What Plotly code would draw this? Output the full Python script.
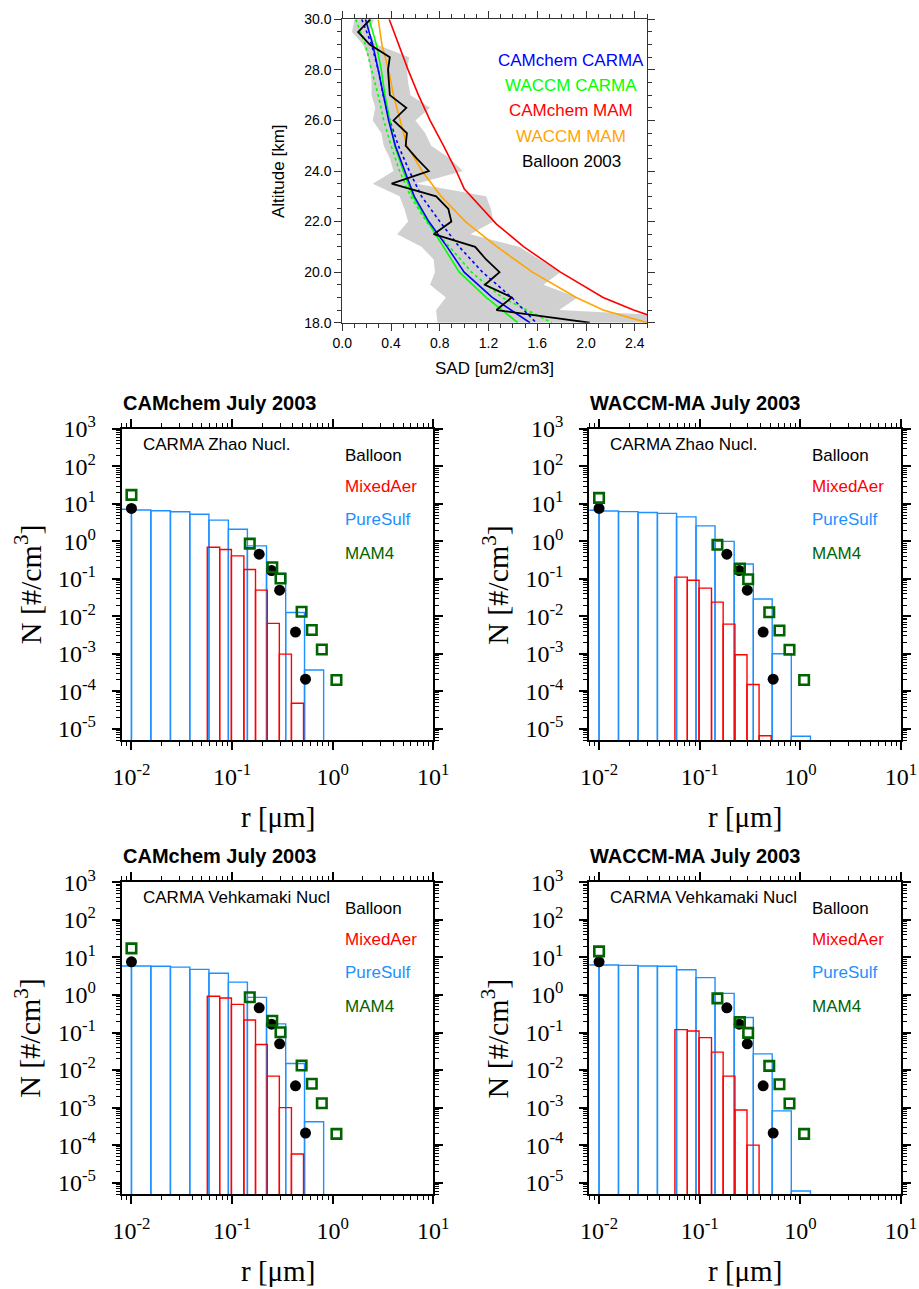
import plotly.graph_objects as go

W, H = 919, 1289

# ---------------- Top panel data (SAD profiles) ----------------
alt_balloon = [30.0, 29.5, 29.0, 28.5, 28.0, 27.5, 27.0, 26.5, 26.0, 25.5, 25.0, 24.5, 24.0,
               23.5, 23.0, 22.5, 22.0, 21.5, 21.0, 20.5, 20.0, 19.5, 19.0, 18.5, 18.0]
sad_balloon = [0.23, 0.13, 0.225, 0.39, 0.375, 0.385, 0.39, 0.525, 0.42, 0.53, 0.52, 0.61, 0.71,
               0.405, 0.77, 0.87, 0.895, 0.75, 1.09, 1.18, 1.29, 1.17, 1.39, 1.265, 2.03]
sad_balloon_lo = [0.10, 0.08, 0.17, 0.21, 0.23, 0.24, 0.24, 0.27, 0.25, 0.32, 0.34, 0.39, 0.42,
                  0.25, 0.47, 0.51, 0.54, 0.45, 0.65, 0.75, 0.76, 0.72, 0.85, 0.77, 0.78]
sad_balloon_hi = [0.26, 0.22, 0.28, 0.55, 0.53, 0.54, 0.56, 0.72, 0.60, 0.68, 0.73, 0.88, 0.99,
                  0.61, 1.18, 1.22, 1.24, 1.05, 1.45, 1.62, 1.79, 1.65, 1.93, 1.78, 3.8]

alt_model = [30, 29, 28, 27, 26, 25, 24, 23, 22, 21, 20, 19, 18]
sad_camchem_carma = [0.19, 0.25, 0.295, 0.335, 0.38, 0.435, 0.51, 0.59, 0.71, 0.86, 1.0, 1.23, 1.54]
sad_camchem_carma_v = [0.16, 0.24, 0.295, 0.335, 0.39, 0.46, 0.55, 0.65, 0.80, 0.96, 1.15, 1.39, 1.59]
sad_waccm_carma = [0.22, 0.28, 0.32, 0.35, 0.39, 0.43, 0.50, 0.58, 0.70, 0.83, 0.96, 1.18, 1.44]
sad_waccm_carma_v = [0.11, 0.19, 0.24, 0.295, 0.34, 0.40, 0.47, 0.56, 0.69, 0.88, 1.06, 1.31, 1.72]

alt_waccm_mam = [30, 29, 28, 27, 26, 25, 24, 23, 22, 21, 20, 19, 18.5, 18]
sad_waccm_mam = [0.295, 0.325, 0.38, 0.42, 0.475, 0.53, 0.655, 0.81, 1.01, 1.27, 1.56, 1.92, 2.14, 2.50]
alt_camchem_mam = [30, 29, 28, 27, 26, 25, 24, 23.3, 21.9, 21, 20, 19, 18.5, 18]
sad_camchem_mam = [0.385, 0.46, 0.54, 0.625, 0.72, 0.83, 0.935, 1.0, 1.265, 1.49, 1.79, 2.14, 2.39, 2.7]

top_legend = ["CAMchem CARMA", "WACCM CARMA", "CAMchem MAM", "WACCM MAM", "Balloon 2003"]

# ---------------- Size distribution data ----------------
r_edges_sulf = [0.00645, 0.01, 0.0156, 0.0244, 0.038, 0.0589, 0.0919, 0.142, 0.220, 0.341, 0.525, 0.813, 1.26]
r_edges_mix = [0.0567, 0.0753, 0.0985, 0.131, 0.171, 0.224, 0.295, 0.389, 0.513]

sulf_cam_zhao = [7.2, 6.9, 6.6, 6.2, 5.3, 3.7, 2.1, 0.76, 0.14, 0.0127, 3.7e-4, 1e-6]
sulf_wac_zhao = [6.8, 6.5, 6.25, 5.9, 5.6, 4.5, 2.6, 1.0, 0.25, 0.029, 1.0e-3, 6.3e-6]
sulf_cam_vehk = [5.9, 5.9, 5.8, 5.5, 4.8, 3.8, 2.2, 0.86, 0.17, 0.015, 4.2e-4, 1e-6]
sulf_wac_vehk = [6.3, 6.3, 6.15, 5.9, 5.8, 4.7, 2.9, 1.1, 0.25, 0.027, 8.2e-4, 6e-6]

mix_cam_zhao = [0.70, 0.61, 0.41, 0.177, 0.050, 0.0065, 9.8e-4, 4.8e-5]
mix_wac_zhao = [0.111, 0.092, 0.0565, 0.0239, 0.0062, 9.4e-4, 1.52e-4, 6.5e-6]
mix_cam_vehk = [0.92, 0.83, 0.56, 0.215, 0.048, 0.0069, 1.0e-3, 5.8e-5]
mix_wac_vehk = [0.119, 0.11, 0.073, 0.030, 0.0069, 8.6e-4, 1.0e-4, 1e-6]

r_balloon = [0.01, 0.186, 0.247, 0.297, 0.427, 0.537]
n_balloon = [7.6, 0.455, 0.167, 0.050, 0.0038, 2.1e-4]
r_mam4 = [0.01, 0.150, 0.251, 0.303, 0.491, 0.620, 0.780, 1.09]
n_mam4_cam = [17.4, 0.87, 0.205, 0.102, 0.0132, 0.0043, 0.0013, 2.0e-4]
n_mam4_wac = [14.5, 0.81, 0.189, 0.098, 0.0129, 0.0042, 0.00128, 2.0e-4]

panel_titles = ["CAMchem July 2003", "WACCM-MA July 2003", "CAMchem July 2003", "WACCM-MA July 2003"]
panel_notes = ["CARMA Zhao Nucl.", "CARMA Zhao Nucl.", "CARMA Vehkamaki Nucl", "CARMA Vehkamaki Nucl"]
legend_names = ["Balloon", "MixedAer", "PureSulf", "MAM4"]
x_decades = [0.01, 0.1, 1, 10]
x_decade_text = ["10<sup>-2</sup>", "10<sup>-1</sup>", "10<sup>0</sup>", "10<sup>1</sup>"]
y_decades = [1e-5, 1e-4, 1e-3, 1e-2, 1e-1, 1, 10, 100, 1000]
y_decade_text = ["10<sup>-5</sup>", "10<sup>-4</sup>", "10<sup>-3</sup>", "10<sup>-2</sup>",
                 "10<sup>-1</sup>", "10<sup>0</sup>", "10<sup>1</sup>", "10<sup>2</sup>", "10<sup>3</sup>"]

# ---------------- helpers ----------------
def xdom(a, b):
    return [a / W, b / W]

def ydom(top, bottom):
    return [1 - bottom / H, 1 - top / H]

def px(x):
    return x / W

def py(y):
    return 1 - y / H

def step_outline(edges, vals, base=1e-8):
    xs, ys = [], []
    for i, v in enumerate(vals):
        xs += [edges[i], edges[i], edges[i + 1], edges[i + 1], None]
        ys += [base, v, v, base, None]
    return xs, ys

fig = go.Figure()

BLUE, LIME, RED, ORANGE = "#0000ff", "#00ff00", "#ff0000", "#ffa500"

# ---- Top panel ----
fig.add_trace(go.Scatter(x=sad_balloon_lo + sad_balloon_hi[::-1], y=alt_balloon + alt_balloon[::-1],
                         fill="toself", fillcolor="#d0d0d0", line=dict(width=0), mode="lines",
                         hoverinfo="skip", showlegend=False, xaxis="x", yaxis="y"))
fig.add_trace(go.Scatter(x=sad_waccm_carma_v, y=alt_model, mode="lines",
                         line=dict(color=LIME, width=1.6, dash="3px,3px"), showlegend=False))
fig.add_trace(go.Scatter(x=sad_camchem_carma_v, y=alt_model, mode="lines",
                         line=dict(color=BLUE, width=1.6, dash="3px,3px"), showlegend=False))
fig.add_trace(go.Scatter(x=sad_waccm_carma, y=alt_model, mode="lines",
                         line=dict(color=LIME, width=1.6), showlegend=False))
fig.add_trace(go.Scatter(x=sad_camchem_carma, y=alt_model, mode="lines",
                         line=dict(color=BLUE, width=1.6), showlegend=False))
fig.add_trace(go.Scatter(x=sad_camchem_mam, y=alt_camchem_mam, mode="lines",
                         line=dict(color=RED, width=1.6), showlegend=False))
fig.add_trace(go.Scatter(x=sad_waccm_mam, y=alt_waccm_mam, mode="lines",
                         line=dict(color=ORANGE, width=1.6), showlegend=False))
fig.add_trace(go.Scatter(x=sad_balloon, y=alt_balloon, mode="lines",
                         line=dict(color="black", width=1.8), showlegend=False))

top_font = dict(family="Liberation Sans, Arial", size=14, color="black")
fig.update_layout(
    xaxis=dict(domain=xdom(342.3, 647), range=[0, 2.5], tickvals=[0, 0.4, 0.8, 1.2, 1.6, 2.0, 2.4],
               ticktext=["0.0", "0.4", "0.8", "1.2", "1.6", "2.0", "2.4"],
               ticks="outside", ticklen=7, tickwidth=1, tickcolor="#333",
               minor=dict(dtick=0.1, tick0=0, ticks="outside", ticklen=4, tickcolor="#333"),
               showline=True, linecolor="#333", linewidth=1, mirror="ticks", showgrid=False,
               zeroline=False, tickfont=top_font, anchor="y", automargin=False),
    yaxis=dict(domain=ydom(19.3, 322.7), range=[18, 30], tickvals=[18, 20, 22, 24, 26, 28, 30],
               ticktext=["18.0", "20.0", "22.0", "24.0", "26.0", "28.0", "30.0"],
               ticks="outside", ticklen=7, tickwidth=1, tickcolor="#333",
               minor=dict(dtick=0.5, tick0=18, ticks="outside", ticklen=4, tickcolor="#333"),
               showline=True, linecolor="#333", linewidth=1, mirror="ticks", showgrid=False,
               zeroline=False, tickfont=top_font, anchor="x", automargin=False),
)

annotations = []
top_cols = [BLUE, LIME, RED, ORANGE, "black"]
top_ys = [60, 85.7, 110.5, 136, 161.5]
for txt, c, yy in zip(top_legend, top_cols, top_ys):
    annotations.append(dict(text=txt, x=px(571), y=py(yy), xref="paper", yref="paper",
                            xanchor="center", yanchor="middle", showarrow=False,
                            font=dict(family="Liberation Sans, Arial", size=17, color=c)))
annotations.append(dict(text="SAD [um2/cm3]", x=px(494.5), y=py(369), xref="paper", yref="paper",
                        xanchor="center", yanchor="middle", showarrow=False,
                        font=dict(family="Liberation Sans, Arial", size=17, color="black")))
annotations.append(dict(text="Altitude [km]", x=px(278), y=py(171), xref="paper", yref="paper",
                        xanchor="center", yanchor="middle", showarrow=False, textangle=-90,
                        font=dict(family="Liberation Sans, Arial", size=17, color="black")))

# ---- Bottom panels ----
panels = [
    dict(x0=121.7, x1=433.3, top=429, bottom=740, sulf=sulf_cam_zhao, mix=mix_cam_zhao, mam=n_mam4_cam),
    dict(x0=589.3, x1=901, top=429, bottom=740, sulf=sulf_wac_zhao, mix=mix_wac_zhao, mam=n_mam4_wac),
    dict(x0=121.7, x1=433.3, top=882.3, bottom=1194, sulf=sulf_cam_vehk, mix=mix_cam_vehk, mam=n_mam4_cam),
    dict(x0=589.3, x1=901, top=882.3, bottom=1194, sulf=sulf_wac_vehk, mix=mix_wac_vehk, mam=n_mam4_wac),
]

x_minor = [k * d for d in [0.001, 0.01, 0.1, 1] for k in range(2, 10)]
y_minor = [k * d for d in [1e-6, 1e-5, 1e-4, 1e-3, 1e-2, 1e-1, 1, 10, 100] for k in range(2, 10)]
serif = "Liberation Serif, Times New Roman"
sans = "Liberation Sans, Arial"
DODGER = "#1e90ff"
DKGREEN = "#006400"

for i, p in enumerate(panels):
    n = i + 2
    xa, ya = f"x{n}", f"y{n}"
    sx, sy = step_outline(r_edges_sulf, p["sulf"])
    mx, my = step_outline(r_edges_mix, p["mix"])
    fig.add_trace(go.Scatter(x=sx, y=sy, mode="lines", line=dict(color=DODGER, width=1.4),
                             showlegend=False, xaxis=xa, yaxis=ya))
    fig.add_trace(go.Scatter(x=mx, y=my, mode="lines", line=dict(color=RED, width=1.4),
                             showlegend=False, xaxis=xa, yaxis=ya))
    fig.add_trace(go.Scatter(x=r_balloon, y=n_balloon, mode="markers",
                             marker=dict(symbol="circle", size=11, color="black"),
                             showlegend=False, xaxis=xa, yaxis=ya))
    fig.add_trace(go.Scatter(x=r_mam4, y=p["mam"], mode="markers",
                             marker=dict(symbol="square-open", size=9.5, color=DKGREEN,
                                         line=dict(width=2.6, color=DKGREEN)),
                             showlegend=False, xaxis=xa, yaxis=ya))
    fig.layout[f"xaxis{n}"] = dict(
        domain=xdom(p["x0"], p["x1"]), type="log", range=[-2.0969, 1], anchor=ya,
        tickmode="array", tickvals=x_decades, ticktext=x_decade_text,
        ticks="outside", ticklen=8, tickwidth=1.5, tickcolor="black",
        minor=dict(tickmode="array", tickvals=x_minor, ticks="outside", ticklen=4, tickwidth=1, tickcolor="black"),
        showline=True, linecolor="black", linewidth=2, mirror="ticks", showgrid=False, zeroline=False,
        tickfont=dict(family=serif, size=24, color="black"), ticklabelstandoff=6, automargin=False)
    fig.layout[f"yaxis{n}"] = dict(
        domain=ydom(p["top"], p["bottom"]), type="log", range=[-5.301, 3], anchor=xa,
        tickmode="array", tickvals=y_decades, ticktext=y_decade_text,
        ticks="outside", ticklen=8, tickwidth=1.5, tickcolor="black",
        minor=dict(tickmode="array", tickvals=y_minor, ticks="outside", ticklen=4, tickwidth=1, tickcolor="black"),
        showline=True, linecolor="black", linewidth=2, mirror="ticks", showgrid=False, zeroline=False,
        tickfont=dict(family=serif, size=24, color="black"), ticklabelstandoff=11, automargin=False)

    annotations.append(dict(text="<b>" + panel_titles[i] + "</b>", x=px(p["x0"] - 1), y=py(p["top"] - 26),
                            xref="paper", yref="paper", xanchor="left", yanchor="middle", showarrow=False,
                            font=dict(family=sans, size=20, color="black")))
    annotations.append(dict(text=panel_notes[i], x=px(p["x0"] + 19), y=py(p["top"] + 15),
                            xref="paper", yref="paper", xanchor="left", yanchor="middle", showarrow=False,
                            font=dict(family=sans, size=17, color="black")))
    for name, col, dy in zip(legend_names, ["black", RED, DODGER, DKGREEN], [26.5, 57, 90, 124]):
        annotations.append(dict(text=name, x=px(p["x0"] + 221), y=py(p["top"] + dy),
                                xref="paper", yref="paper", xanchor="left", yanchor="middle",
                                showarrow=False, font=dict(family=sans, size=17, color=col)))
    annotations.append(dict(text="r [\u03bcm]", x=px((p["x0"] + p["x1"]) / 2), y=py(p["bottom"] + 77),
                            xref="paper", yref="paper", xanchor="center", yanchor="middle",
                            showarrow=False, font=dict(family=serif, size=29, color="black")))
    annotations.append(dict(text="N [#/cm<sup>3</sup>]", x=px(p["x0"] - 94), y=py((p["top"] + p["bottom"]) / 2),
                            xref="paper", yref="paper", xanchor="center", yanchor="middle", textangle=-90,
                            showarrow=False, font=dict(family=serif, size=30, color="black")))

fig.update_layout(width=W, height=H, margin=dict(l=0, r=0, t=0, b=0),
                  paper_bgcolor="white", plot_bgcolor="white", annotations=annotations,
                  showlegend=False)

fig.write_html("out.html")
